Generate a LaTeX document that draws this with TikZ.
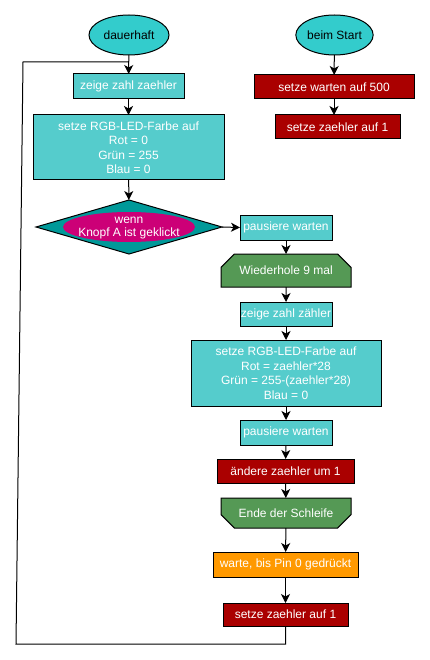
\documentclass[tikz,border=0pt]{standalone}
\usepackage{fontspec}
\setmainfont{Liberation Sans}
\usetikzlibrary{arrows.meta,shapes.geometric,shapes.misc}

\definecolor{ovalcyan}{RGB}{51,204,204}
\definecolor{boxcyan}{RGB}{85,204,204}
\definecolor{wenngruen}{RGB}{0,153,153}
\definecolor{wennrot}{RGB}{204,0,119}
\definecolor{varrot}{RGB}{170,0,0}
\definecolor{schleifengruen}{RGB}{85,153,85}
\definecolor{warteorange}{RGB}{255,153,0}

\tikzset{
	every node/.style={font=\fontsize{12}{14.5}\selectfont,inner sep=0pt,outer sep=0pt},
	oval/.style={draw,ellipse,fill=ovalcyan,text=black},
	block/.style={draw,rectangle,text=white,align=center},
	cyanblock/.style={block,fill=boxcyan},
	redblock/.style={block,fill=varrot},
	orangeblock/.style={block,fill=warteorange},
	loopblock/.style={draw,chamfered rectangle,fill=schleifengruen,text=white,
		chamfered rectangle xsep=10pt,chamfered rectangle ysep=9pt},
	pfeil/.style={-{Stealth[length=9pt,width=9pt,inset=2.5pt]}}
}

\begin{document}
\begin{tikzpicture}[x=1pt,y=-1pt,line width=1pt]
	\useasboundingbox (0,0) rectangle (429,660);
	% dauerhaft
	\node[oval,minimum width=80,minimum height=40] (dauer) at (129,35) {dauerhaft};
	\node[cyanblock,minimum width=111,minimum height=25] (zeige1) at (128.5,86.5) {zeige zahl zaehler};
	\node[cyanblock,minimum width=191,minimum height=65] (rgb1) at (128.5,147.5) {setze RGB-LED-Farbe auf\\Rot = 0\\Grün = 255\\Blau = 0};
	\node[draw,diamond,fill=wenngruen,minimum width=186,minimum height=54] (wenn) at (129,227) {};
	\node[ellipse,fill=wennrot,minimum width=132,minimum height=30] (knopf) at (129,227) {};
	\node[text=white,align=center,font=\fontsize{12}{13}\selectfont] (knopftext) at (129,228) {wenn\\Knopf A ist geklickt};
	\node[cyanblock,minimum width=92,minimum height=25] (pause1) at (286,227.5) {pausiere warten};
	\node[loopblock,chamfered rectangle corners={north west,north east},minimum width=130,minimum height=33] (wdh) at (286,270.5) {Wiederhole 9 mal};
	\node[cyanblock,minimum width=92,minimum height=24] (zeige2) at (286,314) {zeige zahl zähler};
	\node[cyanblock,minimum width=190,minimum height=66] (rgb2) at (286,373) {setze RGB-LED-Farbe auf\\Rot = zaehler*28\\Grün = 255-(zaehler*28)\\Blau = 0};
	\node[cyanblock,minimum width=92,minimum height=25] (pause2) at (286,432.5) {pausiere warten};
	\node[redblock,minimum width=137,minimum height=24] (aendere) at (285.5,471) {ändere zaehler um 1};
	\node[loopblock,chamfered rectangle corners={south west,south east},minimum width=130,minimum height=30] (ende) at (286,513) {Ende der Schleife};
	\node[orangeblock,minimum width=145,minimum height=25] (warte) at (285.5,564.5) {warte, bis Pin 0 gedrückt};
	\node[redblock,minimum width=125,minimum height=23] (zaehler2) at (285.5,614.5) {setze zaehler auf 1};
	% beim Start
	\node[oval,minimum width=75,minimum height=40] (start) at (334.5,35) {beim Start};
	\node[redblock,minimum width=160,minimum height=24] (warten) at (334,87) {setze warten auf 500};
	\node[redblock,minimum width=125,minimum height=24] (zaehler1) at (337.5,127) {setze zaehler auf 1};

	\coordinate (lu) at (16,644);
	\coordinate (lo) at (23,62);

	\draw[pfeil] (start) -- (warten);
	\draw[pfeil] (warten.south) -- (warten.south |- zaehler1.north);
	\draw[pfeil] (dauer) -- (zeige1);
	\draw[pfeil] (zeige1) -- (rgb1);
	\draw[pfeil] (rgb1) -- (wenn);
	\draw[pfeil] (wenn.east) -- (pause1.west);
	\draw[pfeil] (pause1) -- (wdh);
	\draw[pfeil] (wdh) -- (zeige2);
	\draw[pfeil] (zeige2) -- (rgb2);
	\draw[pfeil] (rgb2) -- (pause2);
	\draw[pfeil] (pause2) -- (aendere);
	\draw[pfeil] (aendere) -- (ende);
	\draw[pfeil] (ende) -- (warte);
	\draw[pfeil] (warte) -- (zaehler2);
	\draw (zaehler2.south) |- (lu) -- (lo) -- (lo -| dauer.south);
\end{tikzpicture}
\end{document}
